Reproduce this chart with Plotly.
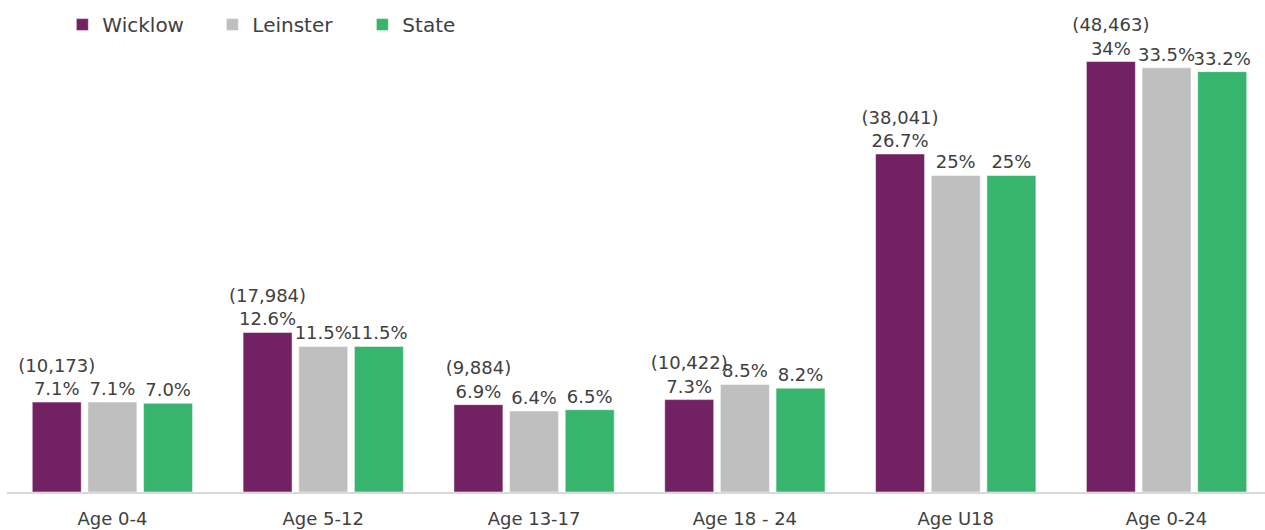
import plotly.graph_objects as go

categories = ["Age 0-4", "Age 5-12", "Age 13-17", "Age 18 - 24", "Age U18", "Age 0-24"]
wicklow = [7.1, 12.6, 6.9, 7.3, 26.7, 34.0]
leinster = [7.1, 11.5, 6.4, 8.5, 25.0, 33.5]
state = [7.0, 11.5, 6.5, 8.2, 25.0, 33.2]
wicklow_counts = ["10,173", "17,984", "9,884", "10,422", "38,041", "48,463"]
wicklow_labels = ["7.1%", "12.6%", "6.9%", "7.3%", "26.7%", "34%"]
leinster_labels = ["7.1%", "11.5%", "6.4%", "8.5%", "25%", "33.5%"]
state_labels = ["7.0%", "11.5%", "6.5%", "8.2%", "25%", "33.2%"]

FONT = "DejaVu Sans"
TXT = "#404040"

fig = go.Figure()
fig.add_bar(name="Wicklow", x=categories, y=wicklow,
            text=[f"({c})<br>{p}" for c, p in zip(wicklow_counts, wicklow_labels)],
            marker=dict(color="#722262", line=dict(color="#ffffff", width=0.5)))
fig.add_bar(name="Leinster", x=categories, y=leinster, text=leinster_labels,
            marker=dict(color="#BFBFBF", line=dict(color="#ffffff", width=0.5)))
fig.add_bar(name="State", x=categories, y=state, text=state_labels,
            marker=dict(color="#37B56F", line=dict(color="#ffffff", width=0.5)))
fig.update_traces(textposition="outside", cliponaxis=False, constraintext="none",
                  textfont=dict(family=FONT, size=18, color=TXT),
                  hoverinfo="skip")

fig.update_layout(
    width=1265, height=530,
    margin=dict(l=7, r=0, t=0, b=38),
    paper_bgcolor="white", plot_bgcolor="white",
    barmode="group", bargap=0.208, bargroupgap=0.12,
    font=dict(family=FONT, size=18, color=TXT),
    showlegend=True,
    legend=dict(orientation="h", x=0.044, y=0.95, xanchor="left", yanchor="middle",
                entrywidth=105, itemwidth=30,
                font=dict(family=FONT, size=20, color=TXT), bgcolor="rgba(0,0,0,0)"),
    xaxis=dict(range=[-0.5, 5.467], showline=True, linecolor="#D9D9D9", linewidth=2,
               ticks="", ticklabelstandoff=9,
               tickfont=dict(family=FONT, size=18, color=TXT), showgrid=False),
    yaxis=dict(range=[0, 38.86], visible=False, showgrid=False),
)

fig.write_html("out.html", config={"displayModeBar": False, "staticPlot": True},
               post_script="document.body.style.margin='0';")
